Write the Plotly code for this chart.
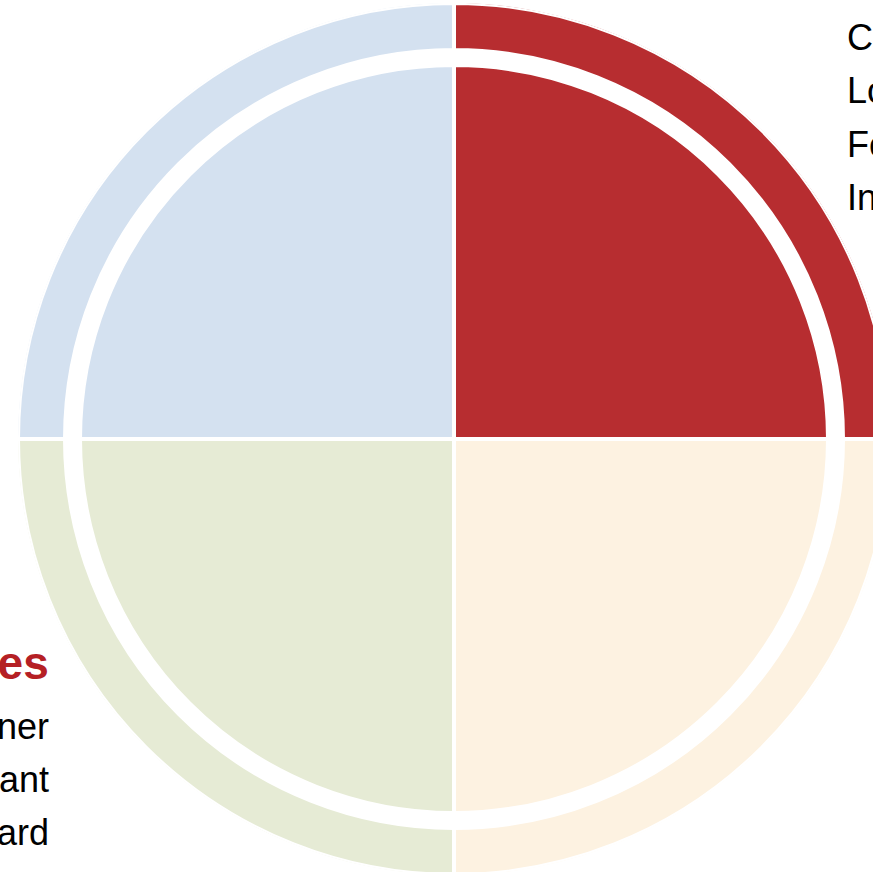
import plotly.graph_objects as go

# Data
quadrants = ["Top right", "Top left", "Bottom left", "Bottom right"]
theta_centers = [45, 135, 225, 315]
sector_width = [90, 90, 90, 90]
inner_radius = [374, 374, 374, 374]
ring_base = [389, 389, 389, 389]
ring_thickness = [47, 47, 47, 47]
colors = ["#B72D30", "#D4E1F0", "#E6EBD5", "#FDF2E1"]

right_labels = ["Customer", "Loyalty", "Feedback", "Insight"]
left_title = "Values"
left_labels = ["Partner", "Relevant", "Forward"]

W, H = 960, 960
cx, cy = 454, 439          # centre in px from top-left
R = 436                    # outer radius in px

fig = go.Figure()
fig.add_trace(go.Barpolar(
    r=inner_radius, theta=theta_centers, width=sector_width,
    marker=dict(color=colors, line=dict(color="white", width=4)),
    hoverinfo="skip", showlegend=False,
))
fig.add_trace(go.Barpolar(
    r=ring_thickness, base=ring_base, theta=theta_centers, width=sector_width,
    marker=dict(color=colors, line=dict(color="white", width=4)),
    hoverinfo="skip", showlegend=False,
))

fig.update_layout(
    width=W, height=H,
    margin=dict(l=0, r=0, t=0, b=0),
    paper_bgcolor="white",
    showlegend=False,
    polar=dict(
        domain=dict(x=[(cx - R) / W, (cx + R) / W],
                    y=[(H - cy - R) / H, (H - cy + R) / H]),
        bgcolor="white",
        radialaxis=dict(visible=False, range=[0, R], showgrid=False),
        angularaxis=dict(visible=False, showgrid=False, direction="counterclockwise", rotation=0),
        bargap=0,
    ),
)

font_family = "Liberation Sans, Arial, sans-serif"
for i, lab in enumerate(right_labels):
    fig.add_annotation(
        x=845 / W, y=1 - (38 + 53 * i) / H, xref="paper", yref="paper",
        text=lab, showarrow=False, xanchor="left", yanchor="middle",
        font=dict(family=font_family, size=36, color="black"),
    )

fig.add_annotation(
    x=51 / W, y=1 - 663 / H, xref="paper", yref="paper",
    text="<b>" + left_title + "</b>", showarrow=False, xanchor="right", yanchor="middle",
    font=dict(family=font_family, size=46, color="#B52025"),
)
for i, lab in enumerate(left_labels):
    fig.add_annotation(
        x=51 / W, y=1 - (726 + 53 * i) / H, xref="paper", yref="paper",
        text=lab, showarrow=False, xanchor="right", yanchor="middle",
        font=dict(family=font_family, size=36, color="black"),
    )

fig.write_html(
    "out.html",
    config={"displayModeBar": False},
    post_script="document.body.style.overflow='hidden';document.documentElement.style.overflow='hidden';document.body.style.margin='0';",
)
